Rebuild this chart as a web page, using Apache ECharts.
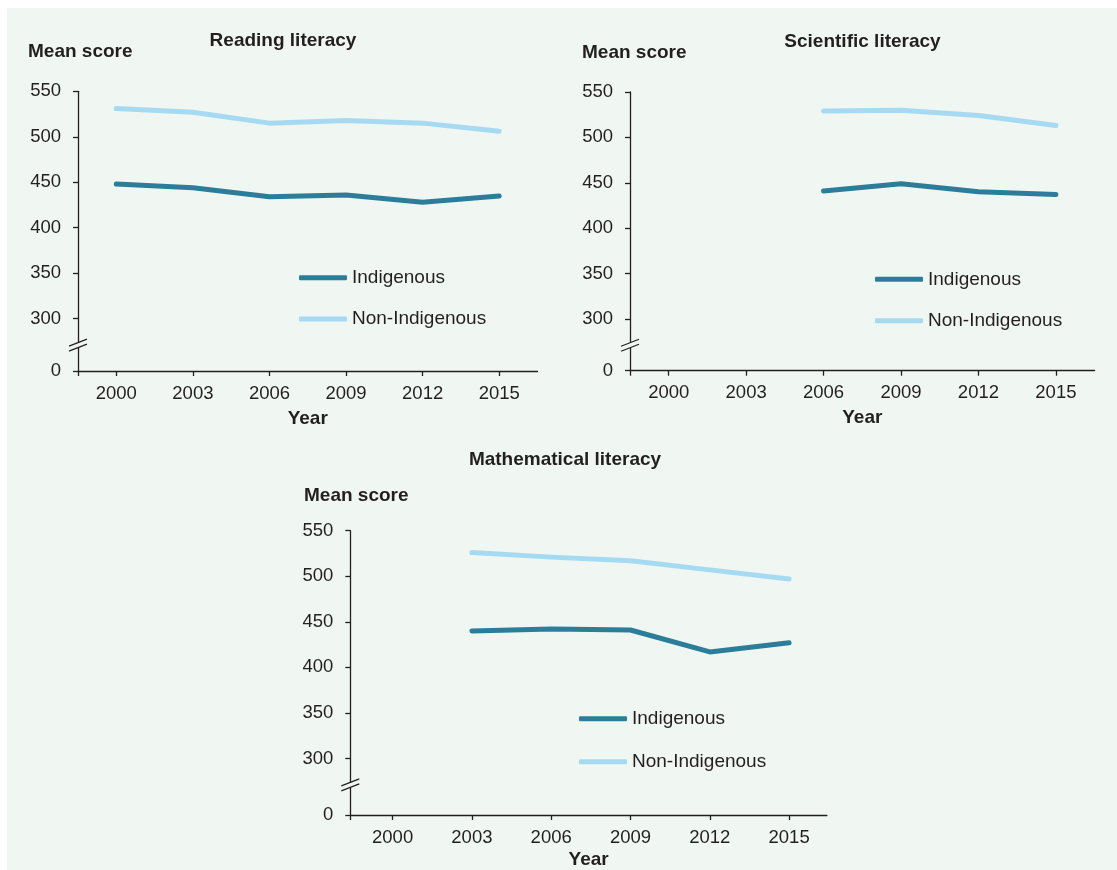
<!DOCTYPE html>
<html>
<head>
<meta charset="utf-8">
<script src="https://cdn.jsdelivr.net/npm/echarts@6/dist/echarts.min.js"></script>
<style>
  html, body { margin: 0; padding: 0; background: #ffffff; }
  #panel { position: absolute; left: 7px; top: 8px; width: 1110px; height: 862px; background: #F0F6F2; }
  #chart { position: absolute; left: 0; top: 0; width: 1117px; height: 870px; }
</style>
</head>
<body>
<div id="panel"></div>
<div id="chart"></div>
<script>
// ---- Data ----
const seriesNames = ['Indigenous', 'Non-Indigenous'];
const yearTickLabels = [2000, 2003, 2006, 2009, 2012, 2015];
const scoreTickLabels = [300, 350, 400, 450, 500, 550];
const brokenAxisLabel = '0';

const readingTitle = 'Reading literacy';
const readingYears = [2000, 2003, 2006, 2009, 2012, 2015];
const readingIndigenous = [448, 444, 434, 436, 428, 435];
const readingNonIndigenous = [531, 527, 515, 518, 515, 506];

const scienceTitle = 'Scientific literacy';
const scienceYears = [2006, 2009, 2012, 2015];
const scienceIndigenous = [441, 449, 440, 437];
const scienceNonIndigenous = [529, 530, 524, 513];

const mathTitle = 'Mathematical literacy';
const mathYears = [2003, 2006, 2009, 2012, 2015];
const mathIndigenous = [440, 442, 441, 417, 427];
const mathNonIndigenous = [526, 521, 517, 507, 497];

const yAxisTitle = 'Mean score';
const xAxisTitle = 'Year';

// ---- Styling / layout ----
const BG = '#F0F6F2';
const TXT = '#231F20';
const C_IND = '#2B7D9A';
const C_NON = '#A6DAF2';
const FONT = "'Liberation Sans', Arial, sans-serif";

const panels = [
  { title: readingTitle, years: readingYears, ind: readingIndigenous, non: readingNonIndigenous,
    grid: { left: 78, right: 1117 - 537.5, top: 91.3, bottom: 870 - 371 },
    xMin: 1998.5, xMax: 2016.5, yMin: 242.5,
    titleX: 283, titleTop: 29.5, msLeft: 28, msTop: 41,
    legLeft: 299, legTop: 266.7, legGap: 19.3, nameGap: 38 },
  { title: scienceTitle, years: scienceYears, ind: scienceIndigenous, non: scienceNonIndigenous,
    grid: { left: 630, right: 1117 - 1094.6, top: 92, bottom: 870 - 370.7 },
    xMin: 1998.5, xMax: 2016.5, yMin: 243,
    titleX: 862.5, titleTop: 30.5, msLeft: 582, msTop: 41.5,
    legLeft: 875, legTop: 268.3, legGap: 19.4, nameGap: 38 },
  { title: mathTitle, years: mathYears, ind: mathIndigenous, non: mathNonIndigenous,
    grid: { left: 350.3, right: 1117 - 826.9, top: 530.7, bottom: 870 - 817.7 },
    xMin: 1998.4, xMax: 2016.43, yMin: 238,
    titleX: 565, titleTop: 448.5, msLeft: 304, msTop: 484.5,
    legLeft: 579, legTop: 707.7, legGap: 21, nameGap: 35 }
];

const chart = echarts.init(document.getElementById('chart'), null, { renderer: 'canvas' });

const option = {
  backgroundColor: 'transparent',
  animation: false,
  textStyle: { fontFamily: FONT, color: TXT },
  title: [], grid: [], xAxis: [], yAxis: [], legend: [], series: []
};

panels.forEach((p, i) => {
  option.title.push({
    text: p.title, left: p.titleX, top: p.titleTop, textAlign: 'center', padding: 0,
    textStyle: { fontFamily: FONT, fontSize: 19, fontWeight: 'bold', color: TXT, lineHeight: 22 }
  });
  option.title.push({
    text: yAxisTitle, left: p.msLeft, top: p.msTop, padding: 0,
    textStyle: { fontFamily: FONT, fontSize: 19, fontWeight: 'bold', color: TXT, lineHeight: 22 }
  });
  option.grid.push(Object.assign({ containLabel: false }, p.grid));
  option.xAxis.push({
    type: 'value', gridIndex: i, min: p.xMin, max: p.xMax,
    name: xAxisTitle, nameLocation: 'middle', nameGap: p.nameGap,
    nameTextStyle: { fontFamily: FONT, fontSize: 19, fontWeight: 'bold', color: TXT },
    axisLine: { show: true, onZero: false, lineStyle: { color: TXT, width: 1.3 } },
    axisTick: { show: true, length: 5, lineStyle: { color: TXT, width: 1.3 },
                customValues: [p.xMin].concat(yearTickLabels) },
    axisLabel: { customValues: yearTickLabels, margin: 13, fontFamily: FONT, fontSize: 18.5, color: TXT,
                 formatter: v => String(v) },
    splitLine: { show: false }
  });
  option.yAxis.push({
    type: 'value', gridIndex: i, min: p.yMin, max: 550,
    axisLine: { show: true, lineStyle: { color: TXT, width: 1.3 } },
    axisTick: { show: true, length: 5, lineStyle: { color: TXT, width: 1.3 },
                customValues: [p.yMin].concat(scoreTickLabels) },
    axisLabel: { customValues: [p.yMin].concat(scoreTickLabels), margin: 17, fontFamily: FONT, fontSize: 18.5, color: TXT,
                 formatter: v => (v < 300 ? brokenAxisLabel : String(v)) },
    splitLine: { show: false }
  });
  option.legend.push({
    data: seriesNames, orient: 'vertical', left: p.legLeft, top: p.legTop, padding: 0,
    itemGap: p.legGap, itemWidth: 48, itemHeight: 5, icon: 'roundRect',
    textStyle: { fontFamily: FONT, fontSize: 19, color: TXT, lineHeight: 22 },
    selectedMode: false
  });
  option.series.push({
    name: seriesNames[0], type: 'line', xAxisIndex: i, yAxisIndex: i, symbol: 'none',
    color: C_IND, lineStyle: { color: C_IND, width: 5, cap: 'round', join: 'round' },
    data: p.years.map((y, k) => [y, p.ind[k]])
  });
  option.series.push({
    name: seriesNames[1], type: 'line', xAxisIndex: i, yAxisIndex: i, symbol: 'none',
    color: C_NON, lineStyle: { color: C_NON, width: 5, cap: 'round', join: 'round' },
    data: p.years.map((y, k) => [y, p.non[k]])
  });
  // axis break marker (double slash) on the y axis, placed through the axis scale
  option.series.push({
    type: 'custom', xAxisIndex: i, yAxisIndex: i, silent: true, clip: false, z: 5,
    data: [[p.xMin, 271]],
    renderItem: function (params, api) {
      const pt = api.coord([api.value(0), api.value(1)]);
      const cx = pt[0], cy = pt[1];
      return {
        type: 'group',
        children: [
          { type: 'polygon', shape: { points: [[cx - 9, cy + 1], [cx + 9, cy - 6], [cx + 9, cy - 1], [cx - 9, cy + 6]] },
            style: { fill: BG } },
          { type: 'line', shape: { x1: cx - 9, y1: cy + 1, x2: cx + 9, y2: cy - 6 }, style: { stroke: TXT, lineWidth: 1.2 } },
          { type: 'line', shape: { x1: cx - 9, y1: cy + 6, x2: cx + 9, y2: cy - 1 }, style: { stroke: TXT, lineWidth: 1.2 } }
        ]
      };
    }
  });
});

chart.setOption(option);
</script>
</body>
</html>
